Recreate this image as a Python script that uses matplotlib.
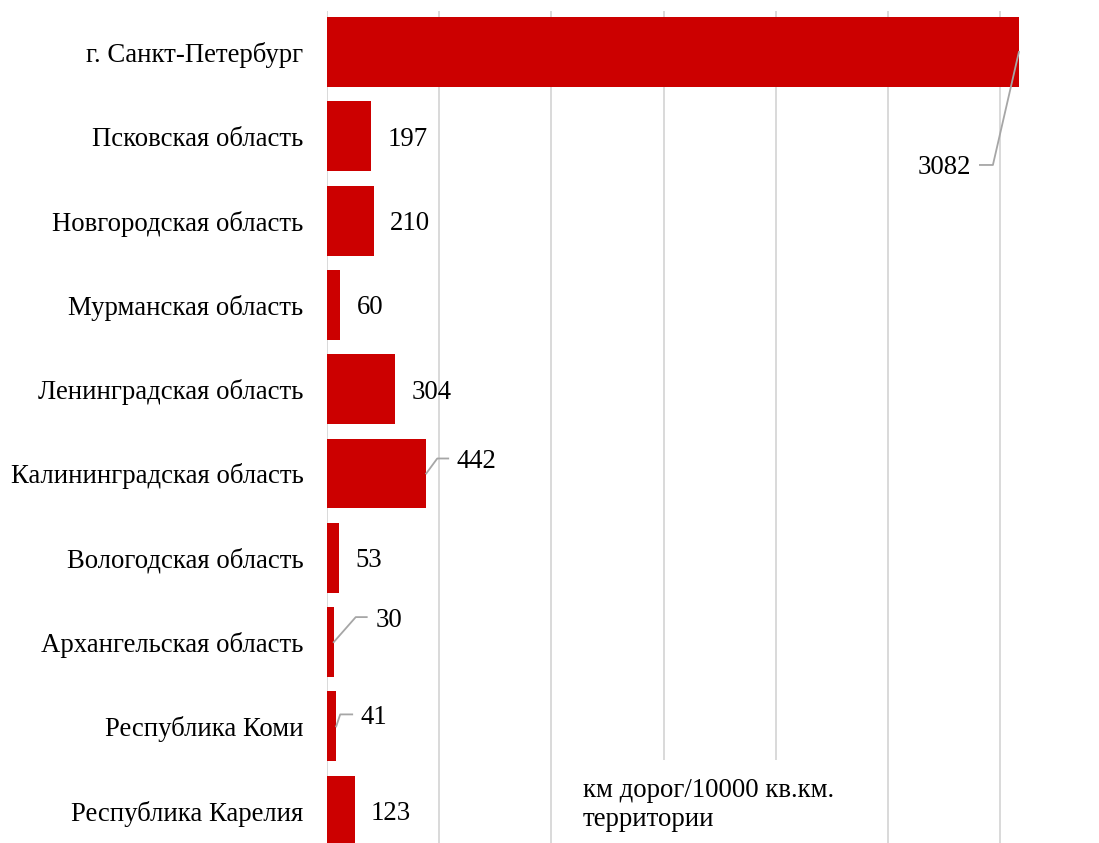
import numpy as np
import matplotlib
matplotlib.use('Agg')
import matplotlib.pyplot as plt
from matplotlib.patches import Rectangle
from matplotlib.lines import Line2D

# --- Data ---
regions = [
    'г. Санкт-Петербург',
    'Псковская область',
    'Новгородская область',
    'Мурманская область',
    'Ленинградская область',
    'Калининградская область',
    'Вологодская область',
    'Архангельская область',
    'Республика Коми',
    'Республика Карелия',
]
road_density = [3082, 197, 210, 60, 304, 442, 53, 30, 41, 123]
unit_label = 'км дорог/10000 кв.км.\nтерритории'

# leader-line labels: index -> (elbow dx, elbow dy, end dx, text dx, ha) in pixels
leaders = {
    0: (-26, -113, -39, -48, 'right'),
    5: (11, 15, 22, 30, 'left'),
    7: (22, 25, 33, 42, 'left'),
    8: (4, 12, 16, 24, 'left'),
}

BAR_COLOR = '#CC0000'
GRID_COLOR = '#D9D9D9'
LEADER_COLOR = '#A6A6A6'
FONT = 'Liberation Serif'
FS = 19.3

plt.rcParams['font.family'] = [FONT, 'DejaVu Serif']

fig = plt.figure(figsize=(10.99, 8.43), dpi=100)
ax = fig.add_axes([327 / 1099, 0, 772 / 1099, 832 / 843])

y_pos = np.arange(len(regions))
ax.barh(y_pos, road_density, height=0.83, color=BAR_COLOR, zorder=3)

ax.set_xlim(0, 772 / 0.2245)
ax.set_ylim(9.383, -0.486)
ax.set_xticks(np.arange(0, 3001, 500))
ax.xaxis.grid(True, color=GRID_COLOR, linewidth=1.4, zorder=0)
ax.set_axisbelow(True)
ax.tick_params(axis='x', length=0, labelbottom=False)
ax.set_yticks(y_pos)
ax.set_yticklabels(regions, fontsize=FS, color='black')
ax.tick_params(axis='y', length=0, pad=17)
for s in ax.spines.values():
    s.set_visible(False)

# unit note on a white box covering the grid
ax.add_patch(Rectangle((0.302, 0), 0.4145, 0.0998, transform=ax.transAxes,
                       facecolor='white', edgecolor='none', zorder=2))
ax.text(0.3316, 0.046, unit_label, transform=ax.transAxes, fontsize=FS,
        va='center', ha='left', linespacing=1.22, zorder=4)

# value labels
fig.canvas.draw()
for i, v in enumerate(road_density):
    x0, y0 = ax.transData.transform((v, i))
    if i in leaders:
        ex, ey, hx, tx, ha = leaders[i]
        fig.add_artist(Line2D([x0, x0 + ex, x0 + hx], [y0, y0 + ey, y0 + ey],
                              transform=None, color=LEADER_COLOR, linewidth=1.3))
        fig.text(x0 + tx, y0 + ey, str(v), transform=None, fontsize=FS,
                 ha=ha, va='center_baseline')
    else:
        fig.text(x0 + 16, y0, str(v), transform=None, fontsize=FS,
                 ha='left', va='center_baseline')

fig.savefig('out.png', dpi=100)
